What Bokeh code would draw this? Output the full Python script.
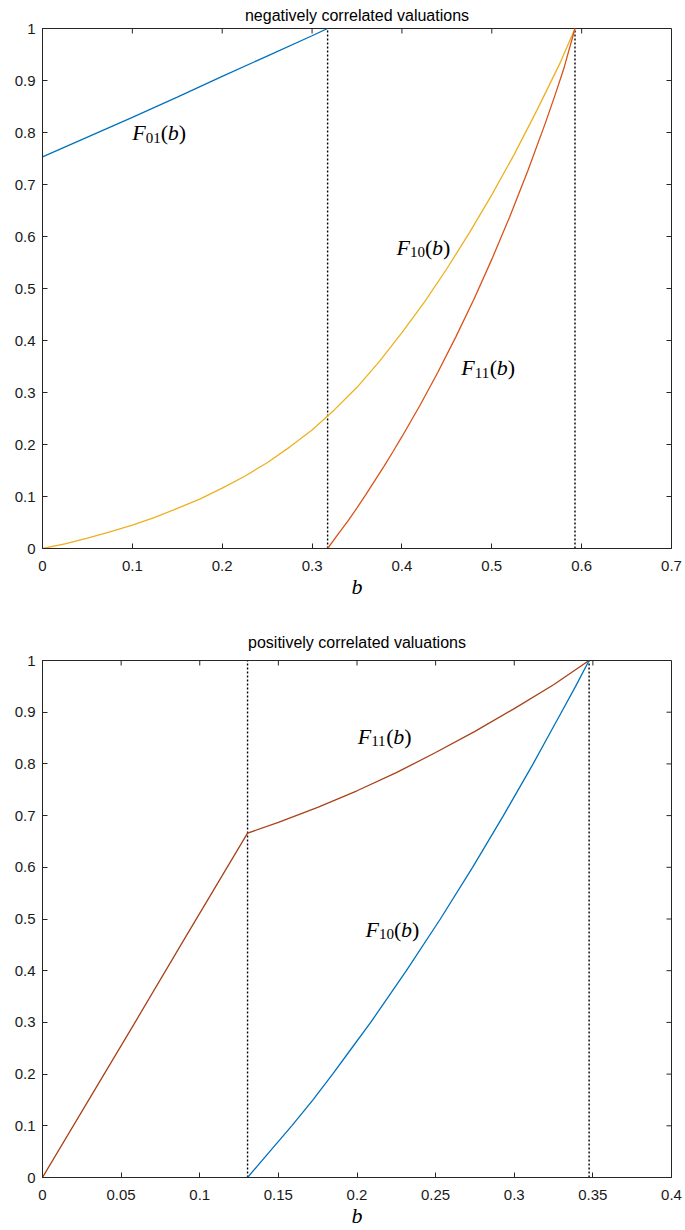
import math
from bokeh.plotting import figure
from bokeh.layouts import column
from bokeh.models import Range1d, FixedTicker, CustomJSTickFormatter
from bokeh.core.properties import value
from bokeh.embed import file_html
from bokeh.resources import INLINE

# ---------------- data: negatively correlated valuations ----------------
neg_f01_b = [0.0, 0.05, 0.1, 0.15, 0.2, 0.25, 0.3, 0.3173]
neg_f01_y = [0.753, 0.791, 0.829, 0.868, 0.908, 0.947, 0.986, 1.0]

neg_f10_b = [0.0, 0.025, 0.05, 0.075, 0.1, 0.125, 0.15, 0.175, 0.2, 0.225, 0.25, 0.275,
             0.3, 0.325, 0.35, 0.375, 0.4, 0.425, 0.45, 0.475, 0.5, 0.525, 0.55, 0.575, 0.5926]
neg_f10_y = [0.0, 0.009, 0.02, 0.032, 0.045, 0.06, 0.077, 0.095, 0.116, 0.139, 0.165, 0.195,
             0.228, 0.267, 0.31, 0.36, 0.415, 0.474, 0.538, 0.607, 0.68, 0.758, 0.842, 0.93, 1.0]

neg_f11_b = [0.3173, 0.33, 0.34, 0.35, 0.36, 0.37, 0.38, 0.39, 0.40, 0.42, 0.44, 0.46, 0.48,
             0.50, 0.52, 0.54, 0.56, 0.57, 0.58, 0.5926]
neg_f11_y = [0.0, 0.030, 0.053, 0.078, 0.104, 0.131, 0.158, 0.186, 0.215, 0.275, 0.339, 0.407,
             0.479, 0.556, 0.638, 0.726, 0.820, 0.870, 0.922, 1.0]

neg_cutoffs = [0.3173, 0.5926]

# ---------------- data: positively correlated valuations ----------------
pos_f11_b = [0.0, 0.03, 0.06, 0.09, 0.1304, 0.15, 0.175, 0.2, 0.225, 0.25, 0.275, 0.3, 0.325, 0.3476]
pos_f11_y = [0.0, 0.153, 0.306, 0.460, 0.666, 0.687, 0.716, 0.748, 0.783, 0.822, 0.863, 0.907, 0.953, 1.0]

pos_f10_b = [0.1304, 0.145, 0.1585, 0.172, 0.1845, 0.1966, 0.2087, 0.2314, 0.253, 0.2735,
             0.2931, 0.312, 0.321, 0.330, 0.339, 0.3476]
pos_f10_y = [0.0, 0.052, 0.10, 0.15, 0.20, 0.25, 0.30, 0.40, 0.50, 0.60,
             0.70, 0.80, 0.85, 0.90, 0.95, 1.0]

pos_cutoffs = [0.1304, 0.3476]

# ---------------- ticks ----------------
y_ticks = [0, 0.1, 0.2, 0.3, 0.4, 0.5, 0.6, 0.7, 0.8, 0.9, 1.0]
neg_x_ticks = [0, 0.1, 0.2, 0.3, 0.4, 0.5, 0.6, 0.7]
pos_x_ticks = [0, 0.05, 0.1, 0.15, 0.2, 0.25, 0.3, 0.35, 0.4]

AX = "#262626"
SANS = "Liberation Sans"
SERIF = "Liberation Serif"

fmt_code = "return String(Number(tick.toFixed(3)));"


def make_fig(title, xmax, xticks, width, height, bl, br, bt, bb, tstand):
    p = figure(width=width, height=height,
               x_range=Range1d(0, xmax), y_range=Range1d(0, 1),
               output_backend="svg", toolbar_location=None,
               min_border_left=bl, min_border_right=br,
               min_border_top=bt, min_border_bottom=bb)
    p.title.text = title
    p.title.align = "center"
    p.title.text_font = SANS
    p.title.text_font_style = "normal"
    p.title.text_font_size = "16px"
    p.title.text_color = "#000000"
    p.title.standoff = tstand
    p.xgrid.visible = False
    p.ygrid.visible = False
    p.outline_line_color = AX
    p.outline_line_width = 1
    p.background_fill_color = "white"
    p.border_fill_color = "white"

    for ax, ticks in ((p.xaxis[0], xticks), (p.yaxis[0], y_ticks)):
        ax.ticker = FixedTicker(ticks=ticks)
        ax.formatter = CustomJSTickFormatter(code=fmt_code)
        ax.major_tick_in = 5
        ax.major_tick_out = 0
        ax.minor_tick_line_color = None
        ax.axis_line_color = AX
        ax.major_tick_line_color = AX
        ax.major_label_text_font = SANS
        ax.major_label_text_font_size = "15px"
        ax.major_label_text_color = "#1a1a1a"
    p.xaxis.major_label_standoff = 12
    p.yaxis.major_label_standoff = 7

    p.xaxis.axis_label = "b"
    p.xaxis.axis_label_text_font = SERIF
    p.xaxis.axis_label_text_font_style = "italic"
    p.xaxis.axis_label_text_font_size = "22px"
    p.xaxis.axis_label_text_color = "#000000"
    p.xaxis.axis_label_standoff = 0

    # box ticks on top and right edges (MATLAB-style), 5 screen px inward
    p.ray(x=xticks, y=[1.0] * len(xticks), length=5, length_units="screen",
          angle=-math.pi / 2, line_color=AX, line_width=1)
    p.ray(x=[xmax] * len(y_ticks), y=y_ticks, length=5, length_units="screen",
          angle=math.pi, line_color=AX, line_width=1)
    return p


def add_label(p, x, y, sub):
    # math-style label  F_sub(b): italic F, upright subscript, upright parens, italic b
    big = "22px"
    pieces = [("F", 0, 0, "italic", big),
              (sub, 13.5, 5, "normal", "15px"),
              ("(", 28.5, 0, "normal", big),
              ("b", 35.5, 0, "italic", big),
              (")", 46.5, 0, "normal", big)]
    for txt, dx, dy, style, size in pieces:
        p.text(x=[x], y=[y], text=[txt], x_offset=dx, y_offset=dy,
               text_font=value(SERIF), text_font_style=style,
               text_font_size=size, text_color="#000000",
               text_baseline="alphabetic", text_align="left")


# ---------------- top chart ----------------
p1 = make_fig("negatively correlated valuations", 0.7, neg_x_ticks,
              width=685, height=605, bl=38, br=14, bt=28, bb=57, tstand=9)
for c in neg_cutoffs:
    p1.line([c, c], [0, 1], line_color="#000000", line_dash="2 2", line_width=1.4)
p1.line(neg_f01_b, neg_f01_y, line_color="#0072BD", line_width=1.3)
p1.line(neg_f10_b, neg_f10_y, line_color="#EDB120", line_width=1.3)
p1.line(neg_f11_b, neg_f11_y, line_color="#D95319", line_width=1.3)
add_label(p1, 0.1000, 0.800, "01")
add_label(p1, 0.3940, 0.579, "10")
add_label(p1, 0.4660, 0.348, "11")

# ---------------- bottom chart ----------------
p2 = make_fig("positively correlated valuations", 0.4, pos_x_ticks,
              width=685, height=625, bl=42, br=0, bt=55, bb=52, tstand=20)
for c in pos_cutoffs:
    p2.line([c, c], [0, 1], line_color="#000000", line_dash="2 2", line_width=1.4)
p2.line(pos_f11_b, pos_f11_y, line_color="#A8421A", line_width=1.3)
p2.line(pos_f10_b, pos_f10_y, line_color="#0072BD", line_width=1.3)
add_label(p2, 0.2004, 0.853, "11")
add_label(p2, 0.2054, 0.480, "10")

layout = column(p1, p2, spacing=0)
open("out.html", "w").write(file_html(layout, INLINE))
